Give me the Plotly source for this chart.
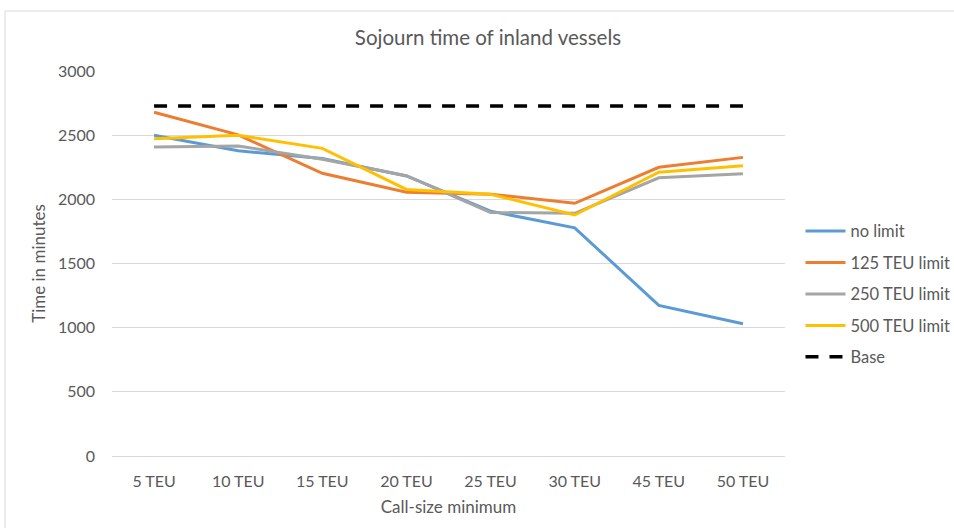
import plotly.graph_objects as go

# Call-size minimum categories
categories = ["5 TEU", "10 TEU", "15 TEU", "20 TEU", "25 TEU", "30 TEU", "45 TEU", "50 TEU"]

# Sojourn time in minutes per scenario
no_limit = [2500, 2378, 2318, 2182, 1908, 1778, 1173, 1030]
limit_125 = [2678, 2502, 2203, 2056, 2040, 1969, 2250, 2327]
limit_250 = [2408, 2416, 2312, 2184, 1898, 1891, 2168, 2200]
limit_500 = [2473, 2500, 2397, 2077, 2040, 1878, 2211, 2262]
base = [2728] * len(categories)

series = [
    ("no limit", no_limit, "#5b9bd5", "solid", 3),
    ("125 TEU limit", limit_125, "#ed7d31", "solid", 3),
    ("250 TEU limit", limit_250, "#a5a5a5", "solid", 3),
    ("500 TEU limit", limit_500, "#ffc000", "solid", 3),
    ("Base", base, "#000000", "13px,11px", 3.5),
]

fig = go.Figure()
for name, vals, color, dash, width in series:
    fig.add_trace(go.Scatter(
        x=categories, y=vals, name=name, mode="lines", legendgroup=name,
        line=dict(color=color, width=width, dash=dash),
    ))

txt = "#595959"
fig.update_layout(
    width=954, height=528,
    margin=dict(l=112, r=169, t=71, b=72, autoexpand=False),
    paper_bgcolor="white", plot_bgcolor="white",
    font=dict(family="Lato, Carlito, sans-serif", size=16, color=txt),
    title=dict(text="Sojourn time of inland vessels", x=488 / 954, xanchor="center",
               y=1 - 38 / 528, yanchor="middle", font=dict(size=20.5, color=txt)),
    showlegend=True,
    legend=dict(x=1.023, xanchor="left", y=0.42, yanchor="middle",
                font=dict(size=16.5, color=txt), tracegroupgap=7,
                itemwidth=40, bgcolor="rgba(0,0,0,0)"),
    xaxis=dict(type="category", range=[-0.5, 7.5], showgrid=False, zeroline=False,
               showline=False, ticks="", tickfont=dict(size=16, color=txt),
               ticklabelstandoff=14,
               title=dict(text="Call-size minimum", font=dict(size=17, color=txt), standoff=12)),
    yaxis=dict(range=[0, 3000], dtick=500, showgrid=True, gridcolor="#d9d9d9", gridwidth=1,
               zeroline=True, zerolinecolor="#d9d9d9", zerolinewidth=1, showline=False,
               ticks="", tickfont=dict(size=16, color=txt), ticklabelstandoff=16,
               title=dict(text="Time in minutes", font=dict(size=17, color=txt), standoff=7)),
    shapes=[dict(type="rect", xref="paper", yref="paper",
                 x0=(5 - 112) / 673, x1=(960 - 112) / 673,
                 y0=(456 - 540) / 385, y1=(456 - 11) / 385,
                 line=dict(color="#d9d9d9", width=1), fillcolor="rgba(0,0,0,0)", layer="below")],
)

fig.write_html("out.html")
